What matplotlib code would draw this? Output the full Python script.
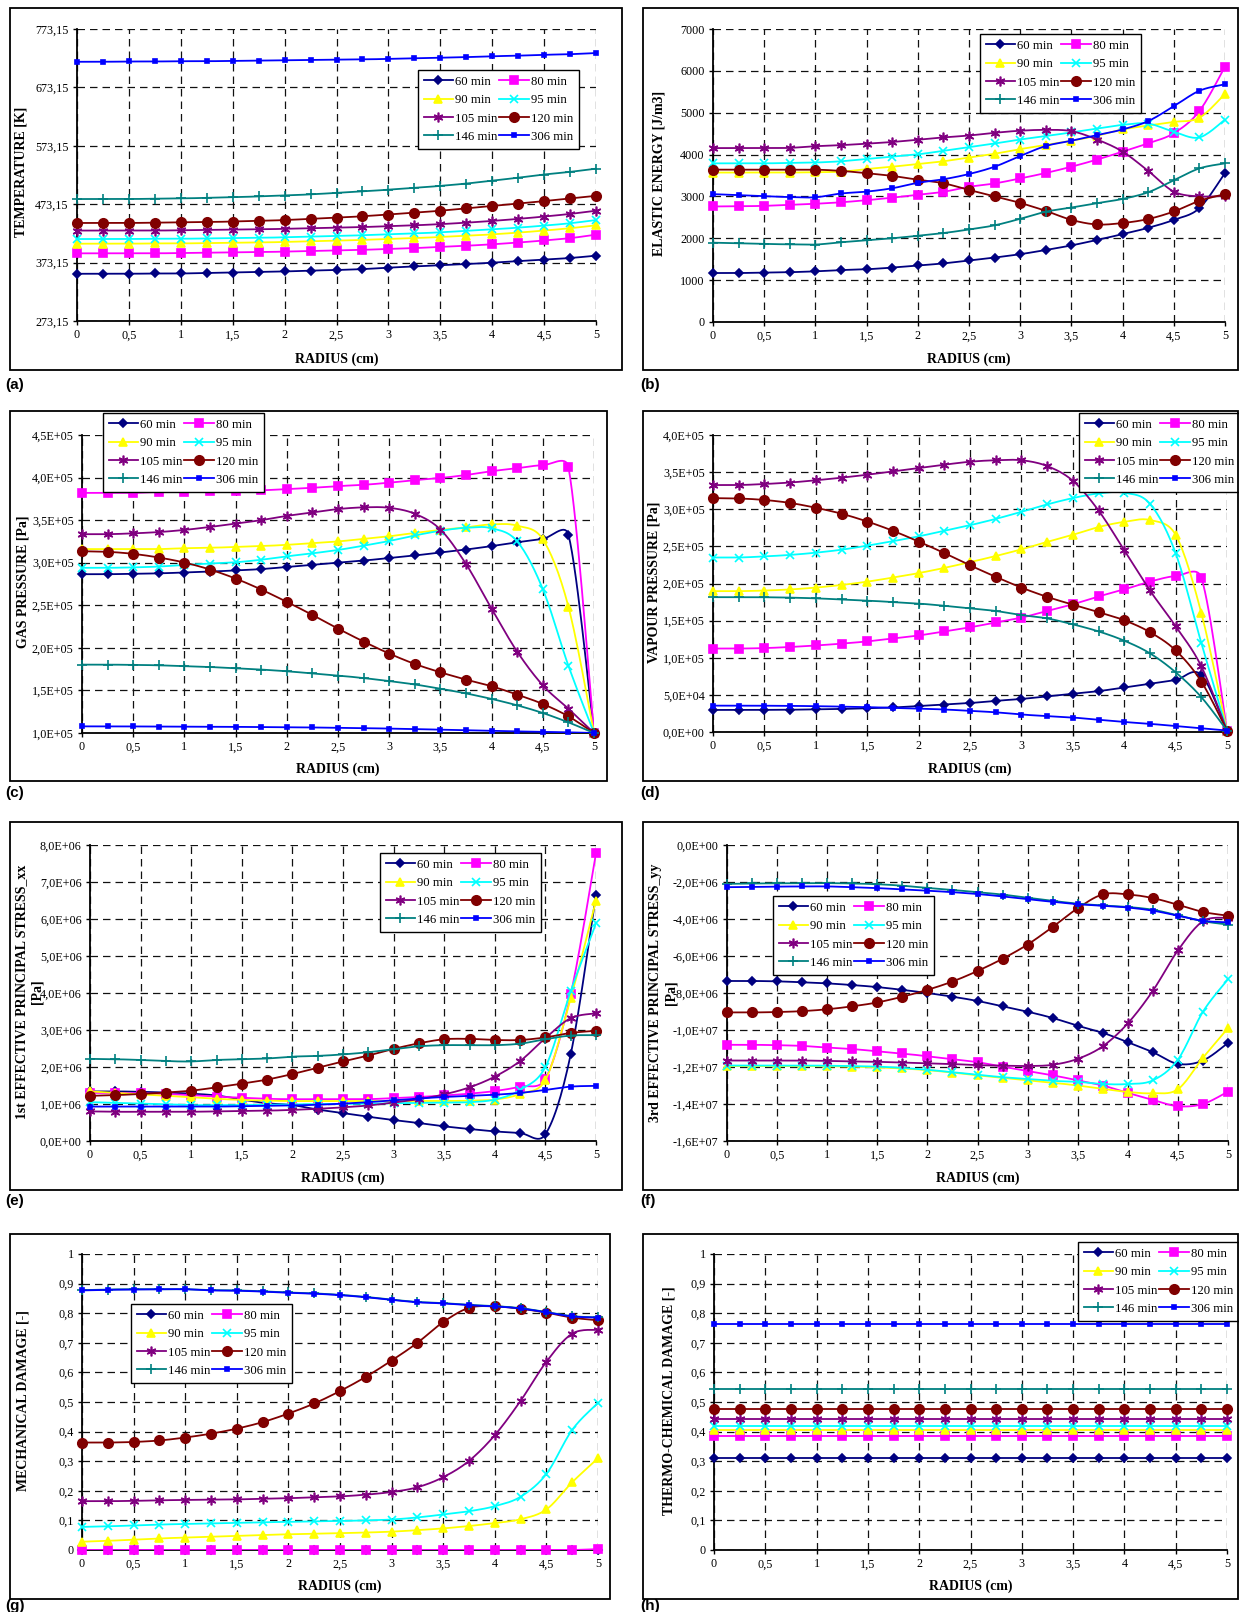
import numpy as np
import matplotlib
matplotlib.use("Agg")
import matplotlib.pyplot as plt
from matplotlib.lines import Line2D
from matplotlib.patches import Rectangle
from matplotlib.ticker import FuncFormatter

# ---- data ----
radius = [0, 0.25, 0.5, 0.75, 1, 1.25, 1.5, 1.75, 2, 2.25, 2.5, 2.75,
          3, 3.25, 3.5, 3.75, 4, 4.25, 4.5, 4.75, 5]
times = ["60 min", "80 min", "90 min", "95 min", "105 min", "120 min", "146 min", "306 min"]

# temperature [K], one list per time
temperature = [
    [354, 354, 354, 354.5, 354.5, 355.5, 356, 357, 358, 359.5, 360.5, 362, 364.5, 366.5, 368.5, 370.5, 373, 375.5, 378, 381, 385],
    [389, 389, 389, 389, 389.5, 390, 390.5, 391, 392, 393, 394, 395, 396.5, 398, 400, 402, 404.5, 407.5, 411, 415, 421],
    [405.5, 405.5, 405.5, 406, 406, 406.5, 407, 407.5, 408.5, 409.5, 410.5, 412, 413.5, 415, 417, 419, 421.5, 424.5, 428, 432, 437],
    [413.5, 413.5, 413.5, 414, 414, 414.5, 415, 415.5, 416.5, 417.5, 418.5, 420, 421.5, 423, 425, 427.5, 430, 433, 436.5, 440.5, 446],
    [428, 428, 428, 428, 428.5, 429, 429.5, 430, 431, 432, 433, 434, 435.5, 437, 439, 441.5, 444.5, 448, 452, 456.5, 462],
    [441, 441, 441, 441.5, 442, 442.5, 443.5, 444.5, 446, 448, 450, 452.5, 455.5, 458.5, 462, 466, 470, 474, 478.5, 483, 487.5],
    [482, 482, 482, 482.5, 483, 484, 485, 486.5, 488, 490, 492.5, 495, 498, 501, 504.5, 508.5, 513.5, 518.5, 524, 528.5, 534],
    [717, 717, 717.5, 717.5, 718, 718, 718.5, 719, 719.5, 720, 720.5, 721, 722, 723, 724, 725, 726.5, 727.5, 729, 730, 732],
]

# elastic energy [J/m3]
elastic_energy = [
    [1170, 1170, 1180, 1190, 1210, 1240, 1260, 1300, 1350, 1400, 1470, 1540, 1620, 1720, 1830, 1960, 2100, 2250, 2440, 2720, 3560],
    [2760, 2765, 2775, 2800, 2825, 2860, 2910, 2970, 3040, 3110, 3230, 3310, 3430, 3560, 3710, 3880, 4070, 4270, 4510, 5040, 6100],
    [3570, 3570, 3570, 3570, 3580, 3590, 3655, 3710, 3775, 3840, 3930, 4020, 4130, 4230, 4330, 4450, 4600, 4695, 4780, 4880, 5450],
    [3790, 3790, 3790, 3800, 3810, 3840, 3895, 3950, 4005, 4090, 4180, 4265, 4360, 4440, 4530, 4620, 4710, 4740, 4545, 4410, 4835],
    [4155, 4155, 4155, 4160, 4200, 4225, 4260, 4300, 4355, 4410, 4455, 4520, 4570, 4590, 4560, 4360, 4070, 3610, 3115, 3000, 3015],
    [3640, 3640, 3640, 3640, 3640, 3610, 3555, 3490, 3400, 3315, 3155, 3005, 2845, 2655, 2440, 2330, 2365, 2460, 2640, 2895, 3055],
    [1895, 1880, 1865, 1855, 1850, 1905, 1950, 2000, 2060, 2125, 2210, 2310, 2465, 2635, 2735, 2840, 2940, 3100, 3385, 3670, 3790],
    [3055, 3030, 3005, 2985, 2980, 3070, 3115, 3195, 3325, 3410, 3535, 3710, 3965, 4205, 4330, 4465, 4600, 4800, 5155, 5525, 5680],
]

# gas pressure [kPa]
gas_pressure = [
    [286.5, 286.5, 287, 287.5, 288.5, 289.5, 291, 292.5, 295, 297.5, 300, 302.5, 305.5, 308.5, 312, 315.5, 319.5, 324, 328, 333, 100],
    [382, 382, 382, 383, 383, 384, 384.5, 385, 386.5, 388, 390, 391.5, 394, 397, 399.5, 403, 407.5, 411, 414.5, 412.5, 100],
    [316, 316, 316, 316, 317, 317.5, 318.5, 319.5, 321, 323, 325, 328, 331, 335, 338.5, 341.5, 345, 343.5, 327.5, 248.5, 100],
    [294, 294, 294.5, 295.5, 297.5, 299, 300.5, 303.5, 307.5, 311, 315, 320, 325.5, 332, 337.5, 341, 340.5, 325, 269, 179, 100],
    [333.5, 333.5, 334.5, 336, 338.5, 342, 346, 350, 355, 359, 363, 365, 364.5, 357.5, 339, 298.5, 246, 195.5, 156, 128.5, 100],
    [313.5, 312.8, 310.4, 306.1, 300.2, 292, 281.4, 268.5, 254, 238.7, 222.6, 207.4, 193.3, 181.1, 171.3, 162.7, 154.9, 145.1, 134.1, 119.6, 100],
    [180.3, 180.3, 180, 179.5, 178.5, 177.5, 176, 174.5, 172.5, 170, 167.5, 164.5, 161, 157, 152, 146.5, 140, 132.5, 123.5, 112.5, 100],
    [107.8, 107.8, 107.7, 107.6, 107.5, 107.4, 107.2, 107, 106.8, 106.5, 106.1, 105.7, 105.2, 104.6, 103.9, 103.2, 102.5, 101.9, 101.3, 100.8, 100],
]

# vapour pressure [kPa]
vapour_pressure = [
    [29.7, 29.7, 29.8, 30, 30.5, 31, 32, 33, 35, 37, 39, 42, 44.5, 48, 51.5, 55, 60, 65, 70, 77, 2],
    [112.4, 112.4, 113, 114.5, 116.5, 119, 122, 126, 130, 135.5, 141, 147.5, 154, 163, 172, 182.5, 192, 202.5, 210, 208, 2],
    [189.7, 189.7, 190.5, 192, 194.5, 198, 202.5, 208, 214, 221, 228.8, 237, 246, 256, 265.6, 276, 283, 285.5, 265.6, 160.4, 2],
    [235, 235, 236.5, 238.5, 241.5, 245.5, 251, 257, 263.5, 271, 278.5, 287, 296.5, 306.5, 315, 321.3, 322.2, 307.4, 241, 120, 2],
    [332.6, 332.6, 334, 336, 339, 342.5, 346.5, 351, 355.5, 360, 364, 366, 366, 358.2, 338.4, 298.4, 244.9, 190.6, 142.5, 88.5, 2],
    [315, 314.5, 312.5, 308.5, 302, 294, 283.5, 271, 256.5, 241, 224.5, 209, 194.5, 182, 171.5, 161.5, 150.5, 134.5, 110, 68, 2],
    [181.6, 181.6, 181.5, 181, 180, 178.5, 177, 175, 173, 170, 166.5, 163, 157.5, 153, 145, 135.5, 123, 106, 80.5, 47, 2],
    [35.5, 35.5, 35.4, 35.2, 34.8, 34.2, 33.5, 32.5, 31.5, 30.3, 28.5, 26.5, 23.5, 21.5, 19.5, 16.5, 13.5, 11, 8, 5, 2],
]

# 1st effective principal stress xx [MPa]
stress_xx = [
    [1.34, 1.34, 1.33, 1.31, 1.28, 1.23, 1.12, 1.02, 0.97, 0.85, 0.755, 0.656, 0.566, 0.485, 0.396, 0.324, 0.26, 0.216, 0.18, 2.34, 6.66],
    [1.30, 1.30, 1.29, 1.27, 1.24, 1.20, 1.17, 1.14, 1.13, 1.13, 1.13, 1.13, 1.16, 1.19, 1.23, 1.28, 1.35, 1.47, 1.68, 3.96, 7.78],
    [1.34, 1.30, 1.26, 1.22, 1.18, 1.14, 1.11, 1.09, 1.08, 1.08, 1.08, 1.08, 1.08, 1.08, 1.08, 1.09, 1.12, 1.27, 1.65, 3.86, 6.50],
    [1.05, 1.03, 1.01, 0.99, 0.97, 0.97, 0.97, 0.98, 0.99, 1.0, 1.0, 1.01, 1.02, 1.03, 1.04, 1.05, 1.12, 1.38, 2.0, 4.05, 5.88],
    [0.80, 0.79, 0.79, 0.79, 0.79, 0.80, 0.81, 0.82, 0.84, 0.87, 0.91, 0.96, 1.04, 1.13, 1.26, 1.45, 1.74, 2.16, 2.78, 3.32, 3.45],
    [1.22, 1.24, 1.27, 1.31, 1.36, 1.45, 1.55, 1.66, 1.81, 1.98, 2.15, 2.31, 2.49, 2.64, 2.75, 2.76, 2.73, 2.73, 2.80, 2.92, 2.98],
    [2.22, 2.21, 2.19, 2.16, 2.15, 2.19, 2.21, 2.23, 2.28, 2.30, 2.34, 2.40, 2.48, 2.56, 2.59, 2.59, 2.59, 2.63, 2.75, 2.85, 2.86],
    [0.93, 0.93, 0.93, 0.93, 0.93, 0.93, 0.94, 0.95, 0.96, 0.98, 1.01, 1.05, 1.10, 1.15, 1.19, 1.22, 1.25, 1.30, 1.38, 1.47, 1.49],
]

# 3rd effective principal stress yy [MPa]
stress_yy = [
    [-7.35, -7.35, -7.37, -7.42, -7.48, -7.57, -7.68, -7.83, -8.0, -8.2, -8.43, -8.72, -9.01, -9.35, -9.77, -10.15, -10.66, -11.2, -11.83, -11.65, -10.7],
    [-10.8, -10.8, -10.82, -10.86, -10.95, -11.03, -11.15, -11.27, -11.42, -11.58, -11.74, -11.98, -12.22, -12.45, -12.72, -13.0, -13.4, -13.78, -14.12, -14.0, -13.33],
    [-11.95, -11.95, -11.95, -11.95, -11.96, -11.98, -12.02, -12.08, -12.17, -12.3, -12.45, -12.58, -12.72, -12.85, -13.0, -13.18, -13.35, -13.42, -13.2, -11.5, -9.9],
    [-11.92, -11.92, -11.92, -11.92, -11.93, -11.95, -11.98, -12.05, -12.15, -12.28, -12.42, -12.55, -12.65, -12.75, -12.8, -12.92, -12.92, -12.72, -11.6, -9.01, -7.26],
    [-11.65, -11.65, -11.65, -11.65, -11.67, -11.7, -11.72, -11.76, -11.8, -11.84, -11.9, -11.93, -11.95, -11.88, -11.56, -10.88, -9.64, -7.88, -5.7, -4.12, -3.94],
    [-9.05, -9.05, -9.03, -8.98, -8.88, -8.72, -8.51, -8.2, -7.83, -7.38, -6.81, -6.15, -5.38, -4.43, -3.42, -2.67, -2.67, -2.87, -3.23, -3.62, -3.82],
    [-2.1, -2.08, -2.07, -2.06, -2.06, -2.08, -2.12, -2.2, -2.32, -2.43, -2.55, -2.68, -2.85, -3.02, -3.17, -3.27, -3.35, -3.5, -3.8, -4.12, -4.3],
    [-2.28, -2.27, -2.25, -2.24, -2.24, -2.28, -2.33, -2.4, -2.47, -2.55, -2.65, -2.78, -2.93, -3.07, -3.2, -3.28, -3.38, -3.55, -3.82, -4.1, -4.18],
]

# mechanical damage [-]
mech_damage = [
    [0, 0, 0, 0, 0, 0, 0, 0, 0, 0, 0, 0, 0, 0, 0, 0, 0, 0, 0, 0, 0],
    [0, 0, 0, 0, 0, 0, 0, 0, 0, 0, 0, 0, 0, 0, 0, 0, 0, 0, 0, 0, 0.003],
    [0.028, 0.031, 0.035, 0.039, 0.042, 0.045, 0.048, 0.051, 0.053, 0.055, 0.057, 0.059, 0.062, 0.067, 0.073, 0.081, 0.091, 0.104, 0.137, 0.229, 0.31],
    [0.078, 0.08, 0.083, 0.086, 0.088, 0.09, 0.092, 0.094, 0.095, 0.097, 0.098, 0.1, 0.103, 0.11, 0.12, 0.131, 0.148, 0.18, 0.257, 0.406, 0.497],
    [0.165, 0.165, 0.166, 0.168, 0.169, 0.17, 0.171, 0.173, 0.175, 0.178, 0.181, 0.187, 0.196, 0.212, 0.246, 0.301, 0.388, 0.504, 0.636, 0.731, 0.744],
    [0.363, 0.363, 0.365, 0.37, 0.38, 0.393, 0.41, 0.432, 0.461, 0.495, 0.537, 0.585, 0.64, 0.7, 0.77, 0.818, 0.823, 0.815, 0.802, 0.785, 0.776],
    [0.878, 0.88, 0.881, 0.881, 0.881, 0.878, 0.877, 0.874, 0.87, 0.867, 0.862, 0.855, 0.846, 0.838, 0.834, 0.828, 0.824, 0.817, 0.804, 0.79, 0.786],
    [0.877, 0.879, 0.88, 0.881, 0.881, 0.877, 0.876, 0.873, 0.869, 0.866, 0.861, 0.854, 0.845, 0.837, 0.833, 0.827, 0.823, 0.816, 0.803, 0.789, 0.785],
]

# thermo-chemical damage [-] (flat over the radius)
thermo_damage = [0.312, 0.385, 0.407, 0.418, 0.442, 0.478, 0.543, 0.764]

colors = ["#000080", "#FF00FF", "#FFFF00", "#00FFFF", "#800080", "#800000", "#008080", "#0000FF"]
markers = ["D", "s", "^", "x", (6, 2, 0), "o", "+", "s"]
msizes = [4.2, 5.8, 6.2, 6, 7, 6.8, 7, 2.5]

W, H = 1239, 1612
plt.rcParams["font.family"] = ["Liberation Serif", "DejaVu Serif"]
fig = plt.figure(figsize=(W / 100, H / 100), dpi=100)


def smooth(x, y, sx, sy, n=16):
    # Excel-like smoothed line: Bezier through the points, control arms
    # capped at half the segment length (in screen units) to limit overshoot
    P = np.column_stack([np.asarray(x, float) * sx, np.asarray(y, float) * sy])
    Q = np.vstack([P[:1], P, P[-1:]])
    t = np.linspace(0, 1, n)[:, None]
    out = [P[:1]]
    for i in range(len(P) - 1):
        p0, p1, p2, p3 = Q[i], Q[i + 1], Q[i + 2], Q[i + 3]
        d12 = np.hypot(*(p2 - p1))
        d02 = np.hypot(*(p2 - p0))
        d13 = np.hypot(*(p3 - p1))
        f1 = 1 / 6 if d02 / 6 <= d12 / 2 else d12 / (2 * d02)
        f2 = 1 / 6 if d13 / 6 <= d12 / 2 else d12 / (2 * d13)
        c1 = p1 + (p2 - p0) * f1
        c2 = p2 - (p3 - p1) * f2
        b = (1 - t) ** 3 * p1 + 3 * (1 - t) ** 2 * t * c1 + 3 * (1 - t) * t ** 2 * c2 + t ** 3 * p2
        out.append(b[1:])
    out = np.vstack(out)
    return out[:, 0] / sx, out[:, 1] / sy


def comma(v, fmt):
    return format(v, fmt).replace(".", ",")


def sci(v, pos=None):
    return comma(v, ".1E")


def px_rect(x0, y0, x1, y1):
    return [x0 / W, 1 - y1 / H, (x1 - x0) / W, (y1 - y0) / H]


def panel(series, scale, ylim, ystep, yfmt, ylabel, frame, box, ylab_xy, xlab_y, leg_xy, letter, let_xy):
    fig.add_artist(Rectangle((frame[0] / W, 1 - frame[3] / H), (frame[2] - frame[0]) / W,
                             (frame[3] - frame[1]) / H, transform=fig.transFigure,
                             fill=False, ec="black", lw=1.3))
    ax = fig.add_axes(px_rect(*box))
    sx = (box[2] - box[0]) / 5.0
    sy = (box[3] - box[1]) / (ylim[1] - ylim[0])
    handles = []
    for i, vals in enumerate(series):
        v = np.asarray(vals, float) * scale
        xs, ys = smooth(radius, v, sx, sy)
        ax.plot(xs, ys, color=colors[i], lw=1.3, zorder=3 + i * 0.1)
        ax.plot(radius, v, ls="none", marker=markers[i], ms=msizes[i], color=colors[i],
                mec=colors[i], mew=1.2, clip_on=False, zorder=3.05 + i * 0.1)
        handles.append(Line2D([], [], color=colors[i], lw=1.3, marker=markers[i], ms=msizes[i],
                              mec=colors[i], mew=1.2))
    ax.set_xlim(0, 5)
    ax.set_ylim(*ylim)
    ax.set_xticks(np.arange(0, 5.01, 0.5))
    ax.set_yticks(np.arange(ylim[0], ylim[1] + ystep * 0.01, ystep))
    ax.xaxis.set_major_formatter(FuncFormatter(lambda v, p: comma(v, "g")))
    ax.yaxis.set_major_formatter(FuncFormatter(yfmt))
    ax.grid(True, color="#111111", lw=0.9, ls=(0, (6, 4)))
    ax.set_axisbelow(True)
    for s in ["top", "right"]:
        ax.spines[s].set_visible(False)
    for s in ["left", "bottom"]:
        ax.spines[s].set_linewidth(1.3)
    ax.tick_params(direction="out", length=3, width=1, labelsize=8.7, pad=3)
    order = [0, 2, 4, 6, 1, 3, 5, 7]
    ax.legend([handles[i] for i in order], [times[i] for i in order], ncol=2, loc="upper left",
              bbox_to_anchor=(leg_xy[0] / W, 1 - leg_xy[1] / H), bbox_transform=fig.transFigure,
              fancybox=False, edgecolor="black", framealpha=1, fontsize=9.2, handlelength=2.3,
              handletextpad=0.15, columnspacing=0.15, labelspacing=0.5, borderpad=0.45,
              borderaxespad=0)
    fig.text(ylab_xy[0] / W, 1 - ylab_xy[1] / H, ylabel, rotation=90, ha="center", va="center",
             fontsize=10, fontweight="bold", multialignment="center")
    fig.text((box[0] + box[2]) / 2 / W, 1 - xlab_y / H, "RADIUS (cm)", ha="center", va="center",
             fontsize=10, fontweight="bold")
    fig.text(let_xy[0] / W, 1 - let_xy[1] / H, letter, ha="left", va="center", fontsize=11,
             fontweight="bold", family="Liberation Sans")
    return ax


thermo_series = [[v] * len(radius) for v in thermo_damage]

panel(temperature, 1, (273.15, 773.15), 100, lambda v, p: comma(v, ".2f"), "TEMPERATURE [K]",
      (10, 8, 622, 370), (77, 29, 596, 321), (21, 172), 359, (418, 70), "(a)", (5, 385))
panel(elastic_energy, 1, (0, 7000), 1000, lambda v, p: f"{v:.0f}", "ELASTIC ENERGY [J/m3]",
      (643, 8, 1238, 370), (713, 29, 1225, 322), (659, 173), 359, (980, 34), "(b)", (640, 385))
panel(gas_pressure, 1e3, (1e5, 4.5e5), 0.5e5, sci, "GAS PRESSURE [Pa]",
      (10, 411, 607, 781), (82, 435, 594, 733), (23, 582), 769, (103, 413), "(c)", (5, 793))
panel(vapour_pressure, 1e3, (0, 4e5), 0.5e5, sci, "VAPOUR PRESSURE [Pa]",
      (643, 411, 1238, 781), (713, 435, 1227, 732), (654, 582), 769, (1079, 413), "(d)", (640, 793))
panel(stress_xx, 1e6, (0, 8e6), 1e6, sci, "1st EFFECTIVE PRINCIPAL STRESS_xx\n[Pa]",
      (10, 822, 622, 1190), (90, 845, 596, 1141), (29, 992), 1178, (380, 853), "(e)", (5, 1201))
panel(stress_yy, 1e6, (-1.6e7, 0), 2e6, sci, "3rd EFFECTIVE PRINCIPAL STRESS_yy\n[Pa]",
      (643, 822, 1238, 1190), (727, 845, 1228, 1141), (663, 993), 1178, (773, 896), "(f)", (640, 1201))
panel(mech_damage, 1, (0, 1), 0.1, lambda v, p: comma(round(v, 1), "g"), "MECHANICAL DAMAGE [-]",
      (10, 1234, 610, 1599), (82, 1254, 598, 1550), (23, 1401), 1586, (131, 1304), "(g)", (5, 1606))
panel(thermo_series, 1, (0, 1), 0.1, lambda v, p: comma(round(v, 1), "g"), "THERMO-CHEMICAL DAMAGE [-]",
      (643, 1234, 1238, 1599), (714, 1254, 1227, 1550), (669, 1401), 1586, (1078, 1242), "(h)", (640, 1606))

fig.savefig("out.png", dpi=100)
